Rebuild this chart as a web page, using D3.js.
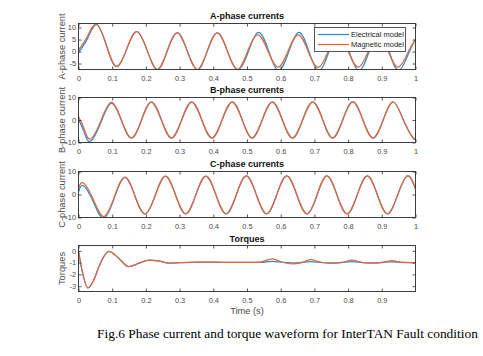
<!DOCTYPE html>
<html><head><meta charset="utf-8">
<script src="https://cdn.jsdelivr.net/npm/d3@7"></script>
<style>
html,body{margin:0;padding:0;background:#fff;}
svg{display:block;}
text{font-family:"Liberation Sans",Arial,Helvetica,sans-serif;}
</style></head>
<body>
<svg id="chart" width="483" height="356"></svg>
<script>
// ---------- data ----------
const xTickValues = [0,0.1,0.2,0.3,0.4,0.5,0.6,0.7,0.8,0.9,1];
const xTickValuesTorque = [0,0.1,0.2,0.3,0.4,0.5,0.6,0.7,0.8,0.9];
const seriesNames = ["Electrical model","Magnetic model"];
const panelTitles = ["A-phase currents","B-phase currents","C-phase currents","Torques"];
const panelYLabels = ["A-phase current","B-phase current","C-phase current","Torques"];
const yTicksA = [10,5,0,-5];
const yTicksB = [10,0,-10];
const yTicksC = [10,0,-10];
const yTicksT = [0,-1,-2,-3];
const xLabel = "Time (s)";
const caption = "Fig.6 Phase current and torque waveform for InterTAN Fault condition";

const timeA = [0,0.027,0.054,0.083,0.112,0.143,0.173,0.204,0.234,0.263,0.293,0.323,0.353,0.382,0.412,0.442,0.472,0.502,0.532,0.562,0.592,0.622,0.652,0.681,0.711,0.741,0.770,0.800,0.830,0.860,0.889,0.919,0.949,0.980,1.0];
const aElectrical = [-0.3,5.5,11.2,2.4,-6.3,1.0,8.3,0.4,-7.5,0.15,7.8,0.15,-7.5,0.15,7.8,0.15,-7.6,-0.8,7.9,1.2,-7.9,-0.8,7.9,1.2,-7.9,-0.8,7.9,1.2,-7.9,-0.8,7.9,1.2,-7.9,-0.6,5.0];
const aMagnetic   = [0.7,6.5,11.4,2.6,-6.2,1.0,8.3,0.4,-7.5,0.15,7.8,0.15,-7.5,0.15,7.8,0.15,-7.4,0.2,7.0,0.25,-6.5,0.2,7.0,0.25,-6.6,0.2,7.0,0.25,-6.5,0.2,7.0,0.25,-6.5,0.3,5.0];

const timeB = [0,0.017,0.035,0.066,0.097,0.127,0.157,0.187,0.216,0.246,0.276,0.306,0.336,0.366,0.396,0.426,0.456,0.486,0.515,0.545,0.575,0.605,0.635,0.665,0.695,0.725,0.754,0.784,0.814,0.844,0.874,0.904,0.934,0.964,0.993,1.0];
const bElectrical = [0.3,-5.5,-9.5,-1.2,7.4,0,-8.0,0,8.0,0,-8.0,0,8.0,0,-8.0,0,8.0,0,-8.0,0,8.0,0,-8.0,0,8.0,0,-8.0,0,8.0,0,-8.0,0,8.0,0,-8.0,-7.8];
const bMagnetic   = [1.5,-4.0,-8.5,-0.5,7.8,0,-8.0,0,8.0,0,-8.0,0,8.0,0,-8.0,0,8.0,0,-8.0,0,8.0,0,-8.0,0,8.0,0,-8.0,0,8.0,0,-8.0,0,8.0,0,-8.0,-7.8];

const timeC = [0,0.015,0.045,0.075,0.106,0.137,0.167,0.197,0.228,0.258,0.288,0.318,0.348,0.378,0.408,0.438,0.468,0.498,0.528,0.558,0.588,0.618,0.648,0.678,0.708,0.737,0.767,0.797,0.827,0.857,0.887,0.917,0.947,0.976,1.0];
const cElectrical = [1.1,3.8,-3.5,-10.3,-1.6,7.4,-0.4,-8.4,-0.3,8.0,-0.2,-8.4,-0.2,8.0,-0.2,-8.4,-0.2,8.1,-0.2,-8.4,-0.2,8.1,-0.2,-8.4,-0.2,8.1,-0.2,-8.4,-0.2,8.1,-0.2,-8.4,-0.2,8.1,2.5];
const cMagnetic   = [2.6,5.0,-2.5,-9.6,-1.2,7.5,-0.4,-8.4,-0.3,8.0,-0.2,-8.4,-0.2,8.0,-0.2,-8.4,-0.2,8.1,-0.2,-8.4,-0.2,8.1,-0.2,-8.4,-0.2,8.1,-0.2,-8.4,-0.2,8.1,-0.2,-8.4,-0.2,8.1,2.5];

const timeT = [0,0.01,0.028,0.045,0.06,0.075,0.09,0.12,0.149,0.18,0.209,0.24,0.27,0.3,0.35,0.4,0.45,0.5,0.54,0.575,0.605,0.635,0.66,0.688,0.72,0.75,0.78,0.812,0.84,0.87,0.9,0.931,0.96,0.999];
const tElectrical = [0,-1.6,-3.15,-2.5,-1.4,-0.5,-0.05,-0.65,-1.35,-1.05,-0.78,-0.88,-1.05,-1.0,-0.95,-0.97,-0.98,-0.98,-0.99,-0.9,-0.99,-1.03,-0.99,-0.91,-0.99,-1.03,-0.99,-0.92,-0.99,-1.03,-0.99,-0.93,-0.99,-1.0];
const tMagnetic   = [0,-1.6,-3.15,-2.5,-1.4,-0.5,-0.05,-0.65,-1.35,-1.05,-0.78,-0.88,-1.05,-1.0,-0.95,-0.97,-0.98,-0.98,-0.95,-0.68,-0.97,-1.1,-1.03,-0.75,-0.97,-1.06,-1.0,-0.8,-0.98,-1.05,-1.0,-0.84,-0.98,-1.0];

// ---------- styling / layout ----------
const colors = ["#2b8dd6","#e2683b"];
const axisColor = "#2b2b2b";
const labelColor = "#4a4a4a";
const plotLeft = 78.5, plotRight = 415.5;

const svg = d3.select("#chart");
const x = d3.scaleLinear().domain([0,1]).range([plotLeft, plotRight]);

const panels = [
  {top:23.5, bottom:69.5, domain:[-7.5,11.7], yTicks:yTicksA, xTicks:xTickValues, t:timeA, s:[aElectrical,aMagnetic], curve:d3.curveNatural, titleY:18.5},
  {top:97.5, bottom:142.5, domain:[-10,10], yTicks:yTicksB, xTicks:xTickValues, t:timeB, s:[bElectrical,bMagnetic], curve:d3.curveNatural, titleY:92.5},
  {top:171.5, bottom:217.5, domain:[-10,10], yTicks:yTicksC, xTicks:xTickValues, t:timeC, s:[cElectrical,cMagnetic], curve:d3.curveNatural, titleY:167},
  {top:245.5, bottom:291.5, domain:[-3.45,0.45], yTicks:yTicksT, xTicks:xTickValuesTorque, t:timeT, s:[tElectrical,tMagnetic], curve:d3.curveMonotoneX, titleY:241.5}
];

const fmt = d => (d===0 ? "0" : d===1 ? "1" : String(d));

panels.forEach((p,i) => {
  const y = d3.scaleLinear().domain(p.domain).range([p.bottom, p.top]);
  const g = svg.append("g");
  const clipId = "clip"+i;
  svg.append("clipPath").attr("id",clipId).append("rect")
    .attr("x",plotLeft).attr("y",p.top).attr("width",plotRight-plotLeft).attr("height",p.bottom-p.top);

  // lines
  const line = d3.line().x(d=>x(d[0])).y(d=>y(d[1])).curve(p.curve);
  const lg = g.append("g").attr("clip-path",`url(#${clipId})`);
  p.s.forEach((vals,k) => {
    lg.append("path").datum(p.t.map((tt,j)=>[tt,vals[j]]))
      .attr("d",line).attr("fill","none").attr("stroke",colors[k])
      .attr("stroke-width",1.25).attr("stroke-linejoin","round");
  });

  // axes
  const styleAxis = sel => {
    sel.select(".domain").remove();
    sel.selectAll(".tick line").attr("stroke",axisColor).attr("stroke-width",0.8);
    sel.selectAll(".tick text").attr("fill",labelColor).style("font-size","7.4px");
  };
  g.append("g").attr("transform",`translate(0,${p.bottom})`)
    .call(d3.axisBottom(x).tickValues(p.xTicks).tickFormat(fmt).tickSize(-3).tickPadding(6))
    .call(styleAxis);
  g.append("g").attr("transform",`translate(0,${p.top})`)
    .call(d3.axisTop(x).tickValues(p.xTicks).tickFormat("").tickSize(-3))
    .call(styleAxis);
  g.append("g").attr("transform",`translate(${plotLeft},0)`)
    .call(d3.axisLeft(y).tickValues(p.yTicks).tickFormat(fmt).tickSize(-3).tickPadding(2.5))
    .call(styleAxis);
  g.append("g").attr("transform",`translate(${plotRight},0)`)
    .call(d3.axisRight(y).tickValues(p.yTicks).tickFormat("").tickSize(-3))
    .call(styleAxis);
  g.selectAll("text").attr("font-family","Liberation Sans, Arial, sans-serif");

  // box
  g.append("rect").attr("x",plotLeft).attr("y",p.top)
    .attr("width",plotRight-plotLeft).attr("height",p.bottom-p.top)
    .attr("fill","none").attr("stroke",axisColor).attr("stroke-width",0.9);

  // title
  g.append("text").attr("x",(plotLeft+plotRight)/2).attr("y",p.titleY)
    .attr("text-anchor","middle").attr("font-weight","bold")
    .style("font-size","9px").attr("fill","#111").text(panelTitles[i]);

  // y label
  g.append("text")
    .attr("transform",`translate(64.5,${(p.top+p.bottom)/2}) rotate(-90)`)
    .attr("text-anchor","middle").style("font-size","9.3px").attr("fill",labelColor)
    .text(panelYLabels[i]);
});

// x label
svg.append("text").attr("x",(plotLeft+plotRight)/2).attr("y",313.5)
  .attr("text-anchor","middle").style("font-size","9.3px").attr("fill",labelColor).text(xLabel);

// legend
const leg = svg.append("g");
leg.append("rect").attr("x",314.5).attr("y",27.5).attr("width",91).attr("height",24)
  .attr("fill","#fff").attr("stroke",axisColor).attr("stroke-width",0.8);
seriesNames.forEach((name,k) => {
  const ly = 34.5 + k*10;
  leg.append("line").attr("x1",318).attr("x2",349).attr("y1",ly).attr("y2",ly)
    .attr("stroke",colors[k]).attr("stroke-width",1.25);
  leg.append("text").attr("x",351).attr("y",ly).attr("dy","0.35em")
    .style("font-size","7.5px").attr("fill","#222").text(name);
});

// caption
const cap = svg.append("text").attr("x",97).attr("y",338)
  .attr("font-family","Liberation Serif, Times New Roman, serif")
  .style("font-family","'Liberation Serif','Times New Roman',serif")
  .style("font-size","14px").attr("fill","#000").text(caption);
const w = cap.node().getComputedTextLength();
cap.style("font-size", (14*381/w).toFixed(2)+"px");
</script>
</body></html>
